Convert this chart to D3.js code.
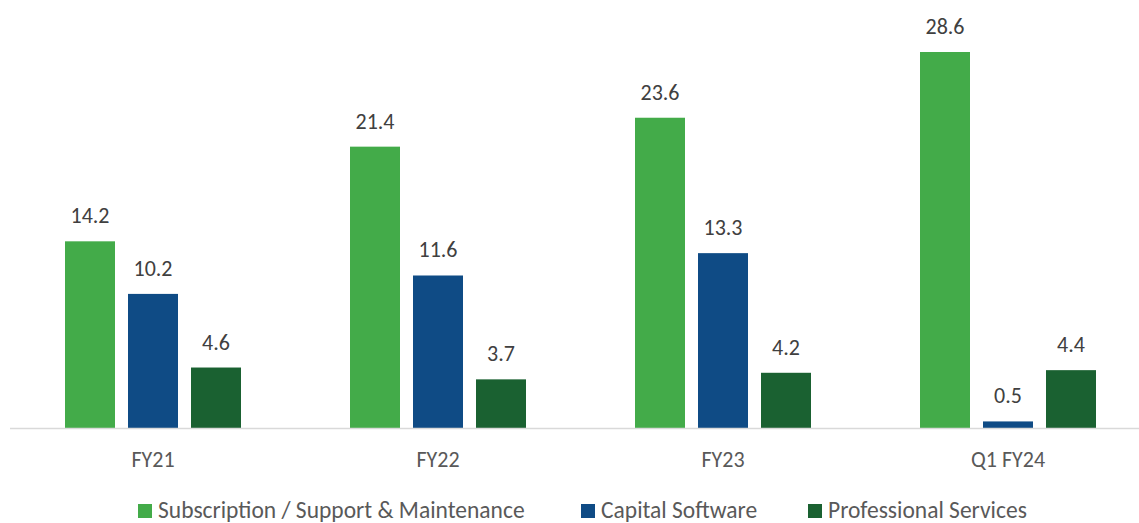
<!DOCTYPE html>
<html><head><meta charset="utf-8">
<script src="https://cdn.jsdelivr.net/npm/d3@7"></script>
<style>body{margin:0;background:#fff}svg{display:block}</style>
</head><body>
<svg id="c" width="1139" height="523"></svg>
<script>
const categories = ["FY21", "FY22", "FY23", "Q1 FY24"];
const seriesNames = ["Subscription / Support & Maintenance", "Capital Software", "Professional Services"];
const subscription = [14.2, 21.4, 23.6, 28.6];
const capital = [10.2, 11.6, 13.3, 0.5];
const professional = [4.6, 3.7, 4.2, 4.4];
const colors = ["#43ab49", "#0f4b85", "#1a6131"];

const svg = d3.select("#c");
const font = "Carlito, Lato, 'Open Sans', sans-serif";
const x0 = d3.scaleBand().domain(categories).range([10.5, 1150.5]).paddingInner(0).paddingOuter(0);
const x1 = d3.scaleBand().domain(seriesNames).range([x0.bandwidth()/2 - 88, x0.bandwidth()/2 + 88]).paddingInner(13/63).paddingOuter(0);
const y = d3.scaleLinear().domain([0, 30]).range([428, 428 - 30 * 376 / 28.6]);

const data = [subscription, capital, professional];
categories.forEach((c, i) => {
  const g = svg.append("g").attr("transform", `translate(${x0(c)},0)`);
  seriesNames.forEach((s, j) => {
    const v = data[j][i];
    g.append("rect").attr("x", x1(s)).attr("width", x1.bandwidth())
      .attr("y", y(v)).attr("height", y(0) - y(v)).attr("fill", colors[j]);
    g.append("text").attr("x", x1(s) + x1.bandwidth()/2).attr("y", y(v) - 18)
      .attr("text-anchor", "middle").attr("font-family", font).attr("font-size", 22)
      .attr("fill", "#404040").text(v.toFixed(1));
  });
});

// axis
const axis = d3.axisBottom(x0).tickSize(0).tickPadding(0);
const ag = svg.append("g").attr("transform", `translate(0,${y(0)})`).call(axis);
ag.select(".domain").remove();
ag.append("line").attr("x1", 10).attr("x2", 1139).attr("y1", 0.5).attr("y2", 0.5)
  .attr("stroke", "#d9d9d9").attr("stroke-width", 1.5);
ag.selectAll(".tick text").attr("font-family", font).attr("font-size", 22)
  .attr("fill", "#595959").attr("dy", null).attr("y", 39);

// legend
const legendX = [138, 581, 808];
seriesNames.forEach((s, j) => {
  const lg = svg.append("g").attr("transform", `translate(${legendX[j]},504)`);
  lg.append("rect").attr("width", 14).attr("height", 14).attr("fill", colors[j]);
  lg.append("text").attr("x", 20).attr("y", 13.5).attr("font-family", font)
    .attr("font-size", 23.5).attr("fill", "#595959").text(s);
});
</script>
</body></html>
